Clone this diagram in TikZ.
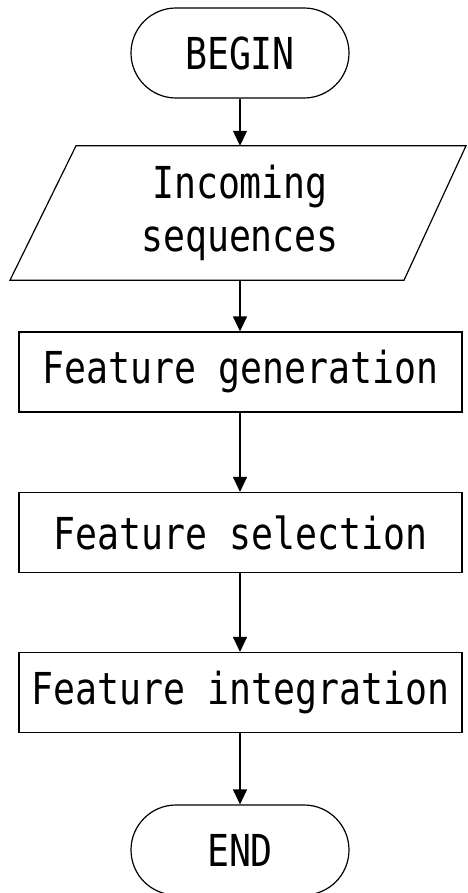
\documentclass[tikz,border=0pt]{standalone}
\usepackage{fontspec}
\newfontfamily\flowfont[FakeStretch=0.83]{DejaVu Sans Mono}
\usetikzlibrary{shapes.misc,arrows.meta}
\begin{document}
\begin{tikzpicture}[x=1pt,y=-1pt,
  font=\flowfont\fontsize{44}{53}\selectfont,
  every node/.style={inner sep=0pt},
  terminal/.style={draw,rounded rectangle,line width=1.2pt,minimum width=218pt,minimum height=90pt},
  procbox/.style={draw,rectangle,line width=1.2pt,minimum width=443pt,minimum height=80pt},
  flow/.style={line width=1.2pt,-{Triangle[length=15pt,width=14pt]}}]
\useasboundingbox (0,0) rectangle (467,893);
\fill[white] (0,0) rectangle (467,893);

% start / end terminals
\node[terminal] (begin) at (240,53) {BEGIN};
\node[terminal] (end) at (240,850) {END};

% input parallelogram (outline drawn around a plain text node)
\node[minimum width=330pt,minimum height=134pt,align=center] (inp) at (240,213) {Incoming\\sequences};
\draw[line width=1.2pt,line join=miter]
  ([xshift=-164pt]inp.north) -- ([xshift=226pt]inp.north)
  -- ([xshift=164pt]inp.south) -- ([xshift=-230pt]inp.south) -- cycle;

% processing steps
\node[procbox] (gen) at (240.5,372) {Feature generation};
\node[procbox] (sel) at (240.5,532.5) {Feature selection};
\node[procbox] (int) at (240.5,692.5) {Feature integration};

% connectors
\draw[flow] (begin.south) -- (inp.north);
\draw[flow] (inp.south) -- (gen.north -| inp.south);
\draw[flow] (gen.south -| inp.south) -- (sel.north -| inp.south);
\draw[flow] (sel.south -| inp.south) -- (int.north -| inp.south);
\draw[flow] (int.south -| inp.south) -- (end.north);
\end{tikzpicture}
\end{document}
